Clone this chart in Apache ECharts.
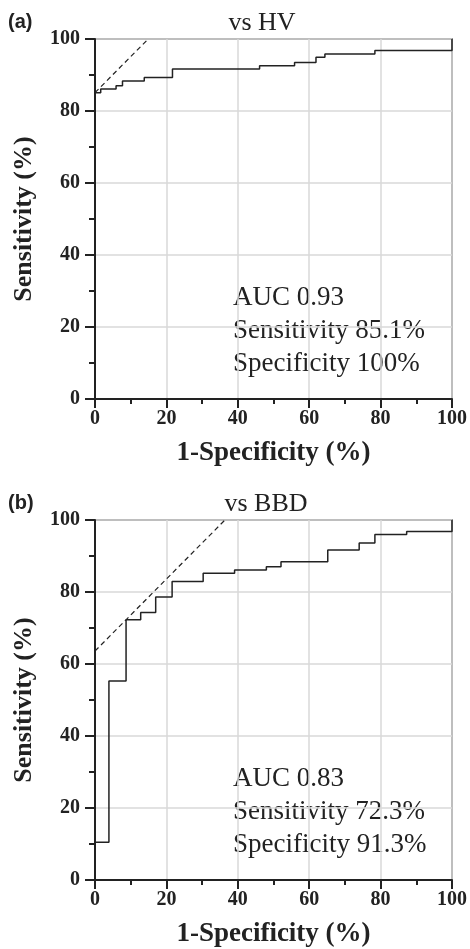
<!DOCTYPE html>
<html>
<head>
<meta charset="utf-8">
<script src="https://cdn.jsdelivr.net/npm/echarts@6/dist/echarts.min.js"></script>
<style>
  html, body { margin: 0; padding: 0; background: #fff; }
  #chart { width: 470px; height: 949px; }
</style>
</head>
<body>
<div id="chart"></div>
<script>
// ROC curve vertices (1-specificity %, sensitivity %), step drawn right-then-up
const hvFpr  = [0, 0, 1.6, 5.9, 7.7, 13.8, 21.7, 46.1, 55.9, 61.9, 64.4, 78.4, 100];
const hvTpr  = [0, 85.1, 86.1, 87.0, 88.3, 89.3, 91.7, 92.6, 93.5, 94.9, 95.8, 96.8, 100];
const bbdFpr = [0, 0, 3.9, 8.7, 12.8, 17.0, 21.6, 30.3, 39.1, 48.0, 52.1, 65.2, 74.0, 78.4, 87.3, 100];
const bbdTpr = [0, 10.5, 55.3, 72.3, 74.3, 78.6, 82.9, 85.2, 86.1, 87.0, 88.4, 91.7, 93.6, 96.0, 96.8, 100];

// Summary statistics for each comparison
const panelTags   = ['(a)', '(b)'];
const panelTitles = ['vs HV', 'vs BBD'];
const aucValues   = ['0.93', '0.83'];
const sensValues  = [85.1, 72.3];
const specValues  = [100, 91.3];

// Axis ticks (both axes 0..100 step 20)
const axisMin = 0, axisMax = 100, axisStep = 20;

const SERIF = '"Liberation Serif", "DejaVu Serif", serif';
const INK = '#222';

const grids = [
  { left: 95, top: 39, width: 358, height: 360 },
  { left: 95, top: 520, width: 358, height: 360 }
];

function zip(xs, ys) { return xs.map((x, i) => [x, ys[i]]); }

// Iso-Youden line through the chosen cut-off point (slope 1)
function cutoffLine(sens, spec) {
  const b = sens - (100 - spec);
  return [[0, b], [100 - b, 100]];
}

function xAxisFor(i) {
  return {
    type: 'value', gridIndex: i, min: axisMin, max: axisMax, interval: axisStep,
    name: '1-Specificity (%)', nameLocation: 'middle', nameGap: 41,
    nameTextStyle: { fontFamily: SERIF, fontWeight: 'bold', fontSize: 27, color: INK },
    axisLine: { show: true, onZero: false, lineStyle: { color: INK, width: 2 } },
    axisTick: { show: true, inside: false, length: 9, lineStyle: { color: INK, width: 2 } },
    minorTick: { show: true, splitNumber: 2, length: 5, lineStyle: { color: INK, width: 2 } },
    axisLabel: { margin: 10, fontFamily: SERIF, fontWeight: 'bold', fontSize: 20, color: INK },
    splitLine: { show: true, lineStyle: { color: '#d8d8d8', width: 1.5 } }
  };
}
function yAxisFor(i) {
  return {
    type: 'value', gridIndex: i, min: axisMin, max: axisMax, interval: axisStep,
    name: 'Sensitivity (%)', nameLocation: 'middle', nameGap: 58,
    nameTextStyle: { fontFamily: SERIF, fontWeight: 'bold', fontSize: 26, color: INK },
    axisLine: { show: true, onZero: false, lineStyle: { color: INK, width: 2 } },
    axisTick: { show: true, inside: false, length: 10, lineStyle: { color: INK, width: 2 } },
    minorTick: { show: true, splitNumber: 2, length: 6, lineStyle: { color: INK, width: 2 } },
    axisLabel: { margin: 15, fontFamily: SERIF, fontWeight: 'bold', fontSize: 20, color: INK },
    splitLine: { show: true, lineStyle: { color: '#d8d8d8', width: 1.5 } }
  };
}

const curves = [zip(hvFpr, hvTpr), zip(bbdFpr, bbdTpr)];

const series = [];
curves.forEach((pts, i) => {
  series.push({
    type: 'line', xAxisIndex: i, yAxisIndex: i, step: 'end', data: pts,
    showSymbol: false, silent: true, z: 5,
    lineStyle: { color: INK, width: 1.5 }
  });
  series.push({
    type: 'line', xAxisIndex: i, yAxisIndex: i, data: cutoffLine(sensValues[i], specValues[i]),
    showSymbol: false, silent: true, z: 4,
    lineStyle: { color: INK, width: 1.2, type: [5, 3.5] }
  });
});

// Text placed around each panel
const graphics = [];
grids.forEach((g, i) => {
  graphics.push({
    type: 'text', left: 8, top: g.top - 27,
    style: { text: panelTags[i], fontFamily: '"Liberation Sans", Arial, sans-serif', fontWeight: 'bold', fontSize: 20, fill: INK }
  });
  graphics.push({
    type: 'text', x: i === 0 ? 262 : 266, y: g.top - 16,
    style: { text: panelTitles[i], fontFamily: SERIF, fontSize: 26, fill: INK, align: 'center', verticalAlign: 'middle' }
  });
  const lines = [
    'AUC ' + aucValues[i],
    'Sensitivity ' + sensValues[i] + '%',
    'Specificity ' + specValues[i] + '%'
  ];
  lines.forEach((t, k) => {
    graphics.push({
      type: 'text', x: 233, y: g.top + 259 + k * 33,
      style: { text: t, fontFamily: SERIF, fontSize: 27, fill: INK, align: 'left', verticalAlign: 'middle' }
    });
  });
});

const chart = echarts.init(document.getElementById('chart'), null, { renderer: 'canvas' });
chart.setOption({
  animation: false,
  backgroundColor: '#fff',
  grid: grids.map(g => Object.assign({ show: true, borderColor: '#444', borderWidth: 1.5, backgroundColor: 'transparent' }, g)),
  xAxis: [xAxisFor(0), xAxisFor(1)],
  yAxis: [yAxisFor(0), yAxisFor(1)],
  series: series,
  graphic: graphics
});
</script>
</body>
</html>
